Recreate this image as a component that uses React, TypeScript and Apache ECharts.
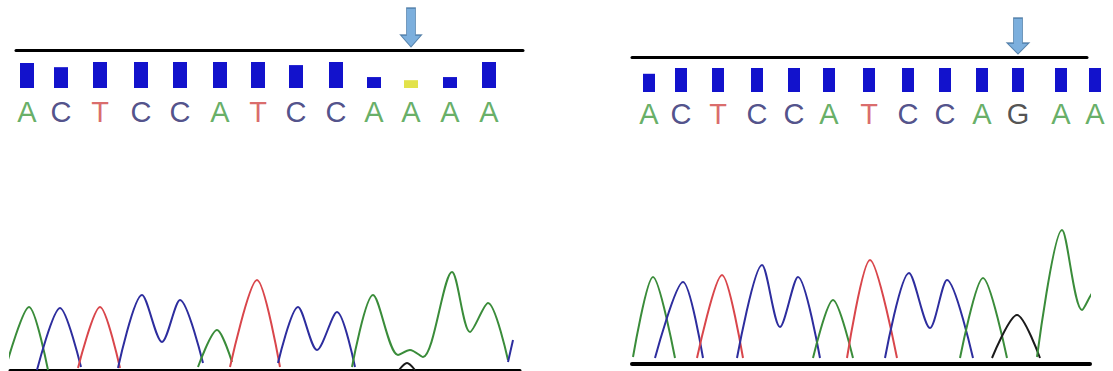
import React, { useEffect, useRef } from "react";
import * as echarts from "echarts";

// ---- Left panel (sample with the low A call) ----
const LEFT_BASES = ["A", "C", "T", "C", "C", "A", "T", "C", "C", "A", "A", "A", "A"];
const LEFT_POS = [27, 61, 100, 141, 180, 220, 258, 296, 336, 374, 411, 450, 489];
const LEFT_QV = [48, 40, 50, 50, 50, 50, 50, 44, 50, 21, 15, 21, 50];
const LEFT_TRACES: Array<[string, number[][]]> = [
  ["A", [[7, 7], [29, 63], [48, 0]]],
  ["C", [[37, 0], [60, 62], [81, 3]]],
  ["T", [[78, 2], [100, 63], [120, 2]]],
  ["C", [[118, 2], [142, 75], [162, 28], [180, 70], [203, 7]]],
  ["A", [[198, 3], [217, 40], [232, 8]]],
  ["T", [[230, 3], [257, 90], [280, 3]]],
  ["C", [[278, 7], [298, 63], [317, 20], [337, 58], [355, 3]]],
  ["A", [[352, 3], [373, 75], [398, 15], [410, 20], [423, 13], [452, 98], [470, 38], [488, 67], [508, 10]]],
  ["C", [[508, 8], [513, 30]]],
  ["G", [[399, 0], [407, 7], [415, 0]]],
];

// ---- Right panel (sample with the G call) ----
const RIGHT_BASES = ["A", "C", "T", "C", "C", "A", "T", "C", "C", "A", "G", "A", "A"];
const RIGHT_POS = [649, 681, 718, 757, 794, 829, 869, 908, 945, 982, 1018, 1061, 1095];
const RIGHT_QV = [38, 50, 50, 50, 50, 50, 50, 50, 50, 50, 50, 50, 50];
const RIGHT_TRACES: Array<[string, number[][]]> = [
  ["A", [[633, 7], [653, 87], [675, 6]]],
  ["C", [[655, 6], [683, 82], [703, 6]]],
  ["T", [[697, 6], [722, 89], [743, 6]]],
  ["C", [[737, 6], [762, 99], [780, 37], [798, 87], [820, 6]]],
  ["A", [[813, 6], [833, 64], [853, 6]]],
  ["T", [[847, 6], [870, 104], [897, 6]]],
  ["C", [[885, 6], [909, 91], [930, 36], [947, 84], [973, 6]]],
  ["A", [[960, 6], [983, 86], [1007, 6]]],
  ["G", [[992, 6], [1017, 49], [1040, 6]]],
  ["A", [[1037, 7], [1062, 134], [1082, 54], [1097, 76], [1105, 67]]],
];

const VARIANT_INDEX = 10;
const LOW_QV = 20;

const TRACE_COLOR: Record<string, string> = {
  A: "#3a8c3a",
  C: "#2d2d9e",
  T: "#d9464b",
  G: "#1a1a1a",
};
const LETTER_COLOR: Record<string, string> = {
  A: "#3f9a3f",
  C: "#25256c",
  T: "#d04545",
  G: "#262626",
};

type Panel = {
  bases: string[];
  pos: number[];
  qv: number[];
  traces: Array<[string, number[][]]>;
  top: { left: number; width: number; top: number; height: number; max: number };
  letters: { top: number };
  trace: { left: number; width: number; top: number; height: number; max: number; base: number };
  barWidth: number;
  arrow: { path: string; size: number[]; offset: number };
};

const PANELS: Panel[] = [
  {
    bases: LEFT_BASES,
    pos: LEFT_POS,
    qv: LEFT_QV,
    traces: LEFT_TRACES,
    top: { left: 16, width: 507, top: 50, height: 38, max: 73 },
    letters: { top: 101 },
    trace: { left: 10, width: 510, top: 270, height: 100, max: 100, base: 3 },
    barWidth: 14,
    arrow: { path: "path://M6,0H15V27H21L10.5,39L0,27H6Z", size: [21, 39], offset: -22.5 },
  },
  {
    bases: RIGHT_BASES,
    pos: RIGHT_POS,
    qv: RIGHT_QV,
    traces: RIGHT_TRACES,
    top: { left: 632, width: 455, top: 57, height: 35, max: 73 },
    letters: { top: 103 },
    trace: { left: 632, width: 458, top: 224, height: 140, max: 140, base: 4 },
    barWidth: 12,
    arrow: { path: "path://M6.5,0H15.5V25H22L11,36L0,25H6.5Z", size: [22, 36], offset: -21 },
  },
];

function buildOption() {
  const grid: any[] = [];
  const xAxis: any[] = [];
  const yAxis: any[] = [];
  const series: any[] = [];

  PANELS.forEach((p) => {
    // grid: quality bars with the reference line on top
    const gTop = grid.length;
    grid.push({ left: p.top.left, width: p.top.width, top: p.top.top, height: p.top.height });
    xAxis.push({
      type: "value",
      gridIndex: gTop,
      min: p.top.left,
      max: p.top.left + p.top.width,
      position: "top",
      axisLine: { show: true, onZero: false, lineStyle: { color: "#000", width: 3 } },
      axisTick: { show: false },
      axisLabel: { show: false },
      splitLine: { show: false },
    });
    yAxis.push({ type: "value", gridIndex: gTop, min: 0, max: p.top.max, show: false });
    series.push({
      type: "bar",
      xAxisIndex: gTop,
      yAxisIndex: gTop,
      barWidth: p.barWidth,
      data: p.pos.map((x, i) => ({
        value: [x, p.qv[i]],
        itemStyle: { color: p.qv[i] < LOW_QV ? "#e2e24a" : "#1212cc" },
      })),
    });
    series.push({
      type: "scatter",
      xAxisIndex: gTop,
      yAxisIndex: gTop,
      clip: false,
      symbol: p.arrow.path,
      symbolSize: p.arrow.size,
      symbolKeepAspect: false,
      symbolOffset: [0, p.arrow.offset],
      itemStyle: { color: "#5b9bd5", borderColor: "#41719c", borderWidth: 1 },
      data: [[p.pos[VARIANT_INDEX], p.top.max]],
    });

    // grid: base call letters
    const gLet = grid.length;
    grid.push({ left: p.top.left, width: p.top.width, top: p.letters.top, height: 22 });
    xAxis.push({ type: "value", gridIndex: gLet, min: p.top.left, max: p.top.left + p.top.width, show: false });
    yAxis.push({ type: "value", gridIndex: gLet, min: 0, max: 1, show: false });
    series.push({
      type: "scatter",
      xAxisIndex: gLet,
      yAxisIndex: gLet,
      clip: false,
      symbolSize: 1,
      itemStyle: { color: "transparent" },
      label: {
        show: true,
        position: "inside",
        fontFamily: "Liberation Sans",
        fontSize: 29,
        formatter: (d: any) => d.name,
      },
      data: p.bases.map((b, i) => ({
        name: b,
        value: [p.pos[i], 0.5],
        label: { color: LETTER_COLOR[b] },
      })),
    });

    // grid: chromatogram traces
    const gTr = grid.length;
    grid.push({ left: p.trace.left, width: p.trace.width, top: p.trace.top, height: p.trace.height });
    xAxis.push({
      type: "value",
      gridIndex: gTr,
      min: p.trace.left,
      max: p.trace.left + p.trace.width,
      position: "bottom",
      axisLine: { show: true, onZero: false, lineStyle: { color: "#000", width: p.trace.base } },
      axisTick: { show: false },
      axisLabel: { show: false },
      splitLine: { show: false },
    });
    yAxis.push({ type: "value", gridIndex: gTr, min: 0, max: p.trace.max, show: false });
    p.traces.forEach(([b, pts]) => {
      series.push({
        type: "line",
        xAxisIndex: gTr,
        yAxisIndex: gTr,
        clip: false,
        smooth: 0.3,
        symbol: "none",
        lineStyle: { color: TRACE_COLOR[b], width: 2 },
        data: pts,
      });
    });
  });

  return {
    animation: false,
    backgroundColor: "#ffffff",
    grid,
    xAxis,
    yAxis,
    series,
  };
}

export default function App() {
  const ref = useRef<HTMLDivElement>(null);
  useEffect(() => {
    if (!ref.current) return;
    const chart = echarts.init(ref.current, undefined, { renderer: "svg" });
    chart.setOption(buildOption() as any);
    return () => chart.dispose();
  }, []);
  return (
    <div
      ref={ref}
      style={{ position: "absolute", left: 0, top: 0, width: 1113, height: 371, background: "#fff" }}
    />
  );
}
